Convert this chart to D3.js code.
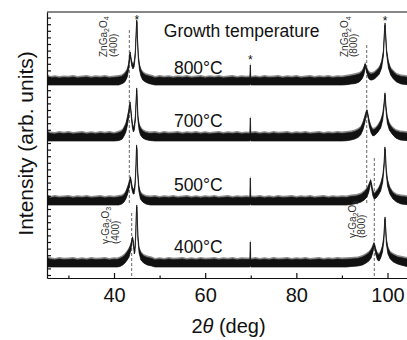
<!DOCTYPE html>
<html><head><meta charset="utf-8">
<script src="https://cdn.jsdelivr.net/npm/d3@7"></script>
<style>
body{margin:0;background:#fff}
svg{display:block}
text{font-family:"Liberation Sans",Arial,Helvetica,sans-serif}
</style>
</head><body>
<svg id="c" width="407" height="340"></svg>
<script>
// ---------------- data ----------------
const temps = ["800°C", "700°C", "500°C", "400°C"];
const offsets = [193, 137, 73, 11];           // baseline of each stacked trace (arb. units)
const xTicks = [40, 60, 80, 100];
const xMinorTicks = [30, 50, 70, 90];
const xTickLabels = ["40", "60", "80", "100"];
// each point: [2θ (deg), lower edge, upper edge] of the noisy XRD trace, arb. units above its baseline
const trace800 = [
[25.3,0,9],[26,0,7],[27,0,7.8],[28,0,7],[29,0,7.6],[30,0,7.2],[31,0,8],[32,0,7],[33,0,7.5],[34,0,7.9],[35,0,7],[36,0,7.7],[37,0,7.2],[38,0,8],[39,0,7.1],[40,0,7.5],[41,0,8],
[41.6,1,8.5],[42.1,2,10],[42.5,4,12],[42.9,8,15],[43.2,15,21],[43.4,24,30],[43.55,30,33],[43.7,25,28],[43.9,19,23],[44.15,16,20],[44.4,18,22],[44.65,28,32],[44.85,48,52],[44.97,63,65],[45.05,62,64],[45.15,44,47],[45.35,25,29],[45.6,15,20],[45.9,9,15],[46.3,5,12],[46.9,3,10],[47.6,1.5,9],[48.5,0.5,8],
[49,0,7],[50,0,8],[51,0,7.2],[52,0,7.8],[53,0,7],[54,0,7.7],[55,0,7.3],[56,0,8],[57,0,7],[58,0,7.5],[59,0,8],[60,0,7.1],[61,0,7.8],[62,0,7.2],[63,0,8],[64,0,7],[65,0,7.5],[66,0,8],[67,0,7.1],[68,0,7.7],[69,0,7.2],[69.8,0,7.5],[69.87,2,20],[69.93,2,20],[70.0,0,7],
[71,0,7.8],[72,0,7.1],[73,0,8],[74,0,7.2],[75,0,7.5],[76,0,8],[77,0,7],[78,0,7.8],[79,0,7.2],[80,0,8],[81,0,7],[82,0,7.5],[83,0,8],[84,0,7.1],[85,0,7.8],[86,0,7.2],[87,0,8],[88,0,7.1],[89,0,7.8],[90,0,7.5],[91,0.3,8.2],
[92,1,9],[93,1.5,10],[93.8,3,11],[94.4,6,13],[94.8,10,17],[95.05,16,21],[95.15,18,21],[95.4,13,17],[95.8,7,13],[96.2,5,11],[96.6,5,11],[97.1,6,12],[97.6,8,14],[98.2,11,17],[98.7,17,23],[99.1,29,34],[99.35,53,56],[99.46,60,62],[99.55,52,55],[99.8,31,35],[100.2,17,23],[100.7,10,16],[101.3,6,13],[102,3,10],[103,1,8.5],[104,0.5,8],[105,0,7.5]
];
const trace700 = [
[25.3,0,9],[26,0,7.5],[27,0,7],[28,0,7.9],[29,0,7.2],[30,0,8],[31,0,7],[32,0,7.6],[33,0,8],[34,0,7],[35,0,7.8],[36,0,7.1],[37,0,7.9],[38,0,7.2],[39,0,8],[40,0,7.1],[40.8,0.3,8],
[41.4,1,9],[41.8,2,10],[42.2,5,13],[42.6,9,17],[42.9,15,23],[43.2,23,30],[43.4,31,36],[43.52,36,39],[43.65,31,34],[43.85,21,25],[44.05,13,17],[44.25,9,13],[44.45,11,15],[44.7,21,26],[44.88,40,44],[44.98,51,53],[45.08,40,43],[45.25,21,25],[45.5,11,17],[45.8,6,13],[46.3,3,10],[46.9,1.5,8.5],[47.8,0.5,7.5],
[49,0,7.9],[50,0,7.1],[51,0,8],[52,0,7.2],[53,0,7.5],[54,0,8],[55,0,7],[56,0,7.8],[57,0,7.2],[58,0,8],[59,0,7.1],[60,0,7.8],[61,0,7.1],[62,0,7.5],[63,0,8],[64,0,7.1],[65,0,7.8],[66,0,7.2],[67,0,8],[68,0,7.1],[69,0,7.6],[69.8,0,7.2],[69.87,2,23],[69.93,2,23],[70.0,0,7.5],
[71,0,8],[72,0,7.1],[73,0,7.8],[74,0,7.1],[75,0,8],[76,0,7.2],[77,0,7.5],[78,0,8],[79,0,7.1],[80,0,7.8],[81,0,7.2],[82,0,8],[83,0,7.1],[84,0,7.5],[85,0,8],[86,0,7.1],[87,0,7.8],[88,0,7.2],[89,0,8],[90,0,7.5],[91,0.3,8],
[92,1,8.5],[92.8,2,9.5],[93.5,3.5,11],[94.1,6,13],[94.6,11,18],[95.0,18,24],[95.3,25,29],[95.5,29,31],[95.7,24,27],[96.0,15,20],[96.4,8,14],[96.8,5,11],[97.3,6,12],[97.9,9,15],[98.5,13,20],[98.95,21,27],[99.25,34,38],[99.42,46,48],[99.5,45,47],[99.65,31,35],[99.95,18,24],[100.4,11,17],[101,7,13],[101.8,3,10],[102.8,1,8.5],[104,0.5,8],[105,0,7.5]
];
const trace500 = [
[25.3,0,9],[26,0,7.1],[27,0,8],[28,0,7.2],[29,0,7.6],[30,0,8],[31,0,7],[32,0,7.8],[33,0,7.2],[34,0,8],[35,0,7.1],[36,0,7.5],[37,0,8],[38,0,7.1],[39,0,7.8],[40,0,7.2],[41,0,8],
[41.7,1,8.5],[42.2,3,10],[42.6,6,13],[43.0,11,18],[43.35,18,23],[43.6,25,28],[43.75,21,25],[43.95,15,19],[44.2,11,15],[44.4,11,15],[44.6,17,21],[44.82,36,40],[44.95,58,60],[45.05,54,56],[45.2,30,34],[45.45,14,19],[45.8,6,12],[46.3,3,9.5],[47,1,8],[48,0,7.5],
[49,0,8],[50,0,7.1],[51,0,7.8],[52,0,7.2],[53,0,8],[54,0,7.1],[55,0,7.5],[56,0,8],[57,0,7.1],[58,0,7.8],[59,0,7],[60,0,7.8],[61,0,7.2],[62,0,8],[63,0,7.1],[64,0,7.5],[65,0,8],[66,0,7.1],[67,0,7.8],[68,0,7.2],[69,0,7.8],[69.8,0,7.2],[69.87,2,27],[69.93,2,27],[70.0,0,7.5],
[71,0,7.2],[72,0,8],[73,0,7.1],[74,0,7.8],[75,0,7.1],[76,0,8],[77,0,7.2],[78,0,7.5],[79,0,8],[80,0,7.1],[81,0,7.8],[82,0,7.2],[83,0,8],[84,0,7.1],[85,0,7.5],[86,0,8],[87,0,7.1],[88,0,7.8],[89,0,7.2],[90,0,7.8],[91,0,7.5],
[92,0.5,8.5],[93.2,1.5,9],[94.2,3,10.5],[94.9,5,13],[95.5,8,16],[95.9,13,20],[96.15,19,23],[96.3,22,25],[96.5,17,21],[96.8,9,14],[97.1,6,11],[97.5,7,13],[98,10,16],[98.5,14,21],[98.95,23,29],[99.25,38,42],[99.42,56,58],[99.52,53,55],[99.7,33,37],[100.0,19,25],[100.5,11,17],[101.2,6,12],[102,3,9.5],[103,1,8.5],[104,0.5,8],[105,0,7.5]
];
const trace400 = [
[25.3,0,9],[26,0,7.8],[27,0,7.1],[28,0,8],[29,0,7.2],[30,0,7.5],[31,0,8],[32,0,7.1],[33,0,7.8],[34,0,7.1],[35,0,8],[36,0,7.2],[37,0,7.5],[38,0,8],[39,0,7.1],[40,0,7.8],[40.7,0,7.5],
[41.3,0.5,8.5],[41.9,2,10],[42.4,4,12],[42.9,7,15],[43.3,10,18],[43.65,16,22],[43.9,23,27],[44.08,28,30],[44.25,22,25],[44.45,13,18],[44.6,15,19],[44.78,32,36],[44.93,56,58],[45.0,60,62],[45.08,51,54],[45.25,27,31],[45.5,14,19],[45.9,7,14],[46.5,4,11],[47.3,2,9.5],[48.3,1,8.5],
[49,0,7.1],[50,0,7.8],[51,0,7.1],[52,0,8],[53,0,7.2],[54,0,7.5],[55,0,8],[56,0,7.1],[57,0,7.8],[58,0,7.1],[59,0,8],[60,0,7.2],[61,0,7.5],[62,0,8],[63,0,7.1],[64,0,7.8],[65,0,7.2],[66,0,8],[67,0,7.1],[68,0,7.8],[69,0,7.5],[69.8,0,7.5],[69.87,2,25],[69.93,2,25],[70.0,0,7],
[71,0,8],[72,0,7.1],[73,0,7.8],[74,0,7.1],[75,0,8],[76,0,7.2],[77,0,7.5],[78,0,8],[79,0,7.1],[80,0,7.8],[81,0,7.2],[82,0,8],[83,0,7.1],[84,0,7.5],[85,0,8],[86,0,7.1],[87,0,7.8],[88,0,7.2],[89,0,8],[90,0,7.5],[91,0,7.8],
[92,0.5,8],[93.5,1,8.5],[94.5,2,10],[95.3,4,12],[95.9,6,14],[96.4,9,17],[96.8,15,21],[97.0,20,24],[97.15,20,23],[97.4,13,18],[97.8,7,13],[98.15,6,12],[98.5,9,15],[98.9,15,21],[99.2,26,31],[99.38,43,46],[99.46,48,50],[99.55,41,44],[99.75,23,28],[100.1,13,19],[100.6,8,14],[101.3,5,12],[102.2,3,10],[103.3,1.5,9],[104.3,0.5,8],[105,0,7.5]
];
const traces = [trace800, trace700, trace500, trace400];
// reference peak positions (deg) and the span (arb. units) of their dashed guide lines
const refTheta = [43.36, 43.88, 95.44, 97.1];
const refSpan = [[75, 248], [2, 65], [75, 235], [2, 120]];
// peak labels: [text parts (part, isSubscript)], Miller index
const phaseZn = [["ZnGa",0],["2",1],["O",0],["4",1]];
const phaseGa = [["γ-Ga",0],["2",1],["O",0],["3",1]];
const hklLabels = ["(400)", "(800)"];
const substratePeaks = [45.0, 69.9, 99.46];
const title = "Growth temperature";

// ---------------- drawing ----------------
const svg = d3.select("#c");
const x = d3.scaleLinear().domain([25.3, 105]).range([47, 410.3]);
const y = d3.scaleLinear().domain([0, 266]).range([278, 12]);

svg.append("defs").append("clipPath").attr("id","clip")
  .append("rect").attr("x", 47).attr("y", 12).attr("width", 363).attr("height", 266);

// dashed guide lines
const g0 = svg.append("g").attr("clip-path","url(#clip)");
refTheta.forEach((t,i) => {
  g0.append("line").attr("x1", x(t)).attr("x2", x(t))
    .attr("y1", y(refSpan[i][0])).attr("y2", y(refSpan[i][1]))
    .attr("stroke", "#555").attr("stroke-width", 0.9).attr("stroke-dasharray", "3,2");
});

// traces: a soft grey fringe for the noise spikes, then the dark core
const gT = svg.append("g").attr("clip-path","url(#clip)");
traces.forEach((tr, i) => {
  const base = offsets[i];
  const fringe = d3.area().x(d => x(d[0])).y0(d => y(base + d[1])).y1(d => y(base + d[2] + 2));
  gT.append("path").attr("d", fringe(tr)).attr("fill", "#8a8a8a");
  const area = d3.area().x(d => x(d[0])).y0(d => y(base + d[1])).y1(d => y(base + d[2]));
  gT.append("path").attr("d", area(tr)).attr("fill", "#111")
    .attr("stroke", "#111").attr("stroke-width", 0.7).attr("stroke-linejoin","round");
});

// axes
const xAxis = d3.axisBottom(x).tickValues(xTicks).tickFormat((d,i) => xTickLabels[i])
  .tickSizeInner(-5).tickSizeOuter(0).tickPadding(10);
const gx = svg.append("g").attr("transform", "translate(0,278)").call(xAxis);
gx.select(".domain").attr("stroke","#111").attr("stroke-width",1.2);
gx.selectAll(".tick line").attr("stroke","#111").attr("stroke-width",1.2);
gx.selectAll(".tick text").attr("font-size", 20).attr("fill","#111")
  .attr("font-family", '"Liberation Sans",Arial,sans-serif');
const xMinor = d3.axisBottom(x).tickValues(xMinorTicks).tickFormat("").tickSizeInner(-2.5).tickSizeOuter(0);
const gxm = svg.append("g").attr("transform", "translate(0,278)").call(xMinor);
gxm.select(".domain").remove();
gxm.selectAll(".tick line").attr("stroke","#111").attr("stroke-width",1.2);

const yTicks = d3.range(3, 266, 6.6);
const yAxis = d3.axisLeft(y).tickValues(yTicks).tickFormat("").tickSizeInner(-4).tickSizeOuter(0);
const gy = svg.append("g").attr("transform", "translate(47,0)").call(yAxis);
gy.select(".domain").attr("stroke","#111").attr("stroke-width",1.2);
gy.selectAll(".tick line").attr("stroke","#111").attr("stroke-width",1.2);

// top frame
svg.append("line").attr("x1", 47).attr("x2", 410).attr("y1", 12).attr("y2", 12)
  .attr("stroke","#111").attr("stroke-width",1.2);

// axis titles
svg.append("text").attr("transform", "translate(33,143.5) rotate(-90)")
  .attr("text-anchor","middle").attr("font-size", 21).attr("fill","#111")
  .text("Intensity (arb. units)");
const xt = svg.append("text").attr("x", 228.5).attr("y", 333).attr("text-anchor","middle")
  .attr("font-size", 20).attr("fill","#111");
xt.append("tspan").text("2");
xt.append("tspan").attr("font-style","italic").text("θ");
xt.append("tspan").text(" (deg)");

// title and temperature labels
svg.append("text").attr("x", x(68)).attr("y", y(241)).attr("text-anchor","middle")
  .attr("font-size", 17.5).attr("fill","#111").text(title);
const tempLabelVals = [204, 151.3, 87.3, 24.7];
temps.forEach((t,i) => {
  svg.append("text").attr("x", x(58.5)).attr("y", y(tempLabelVals[i])).attr("text-anchor","middle")
    .attr("font-size", 17.5).attr("fill","#111").text(t);
});

// asterisks marking substrate peaks
const astVals = [254, 214, 253];
substratePeaks.forEach((t,i) => {
  svg.append("text").attr("x", x(t)).attr("y", y(astVals[i])).attr("text-anchor","middle")
    .attr("font-size", 12).attr("fill","#111").text("*");
});

// rotated phase labels
function rotLabel(theta, val, parts, size) {
  const t = svg.append("text")
    .attr("transform", `translate(${x(theta)},${y(val)}) rotate(-90)`)
    .attr("font-size", size).attr("fill", "#333");
  let shifted = false;
  parts.forEach(([s, sub]) => {
    const sp = t.append("tspan").text(s);
    if (sub) { sp.attr("font-size", size * 0.7); if (!shifted) { sp.attr("dy", 2.5); shifted = true; } }
    else if (shifted) { sp.attr("dy", -2.5); shifted = false; }
  });
}
rotLabel(38.46, 221, phaseZn, 10);
rotLabel(40.55, 221, [[hklLabels[0],0]], 10);
rotLabel(91.34, 221, phaseZn, 10);
rotLabel(93.2, 221, [[hklLabels[1],0]], 10);
rotLabel(38.8, 34, phaseGa, 10);
rotLabel(40.99, 34, [[hklLabels[0],0]], 10);
rotLabel(92.99, 40, phaseGa, 10);
rotLabel(95.07, 40, [[hklLabels[1],0]], 10);
</script>
</body></html>
